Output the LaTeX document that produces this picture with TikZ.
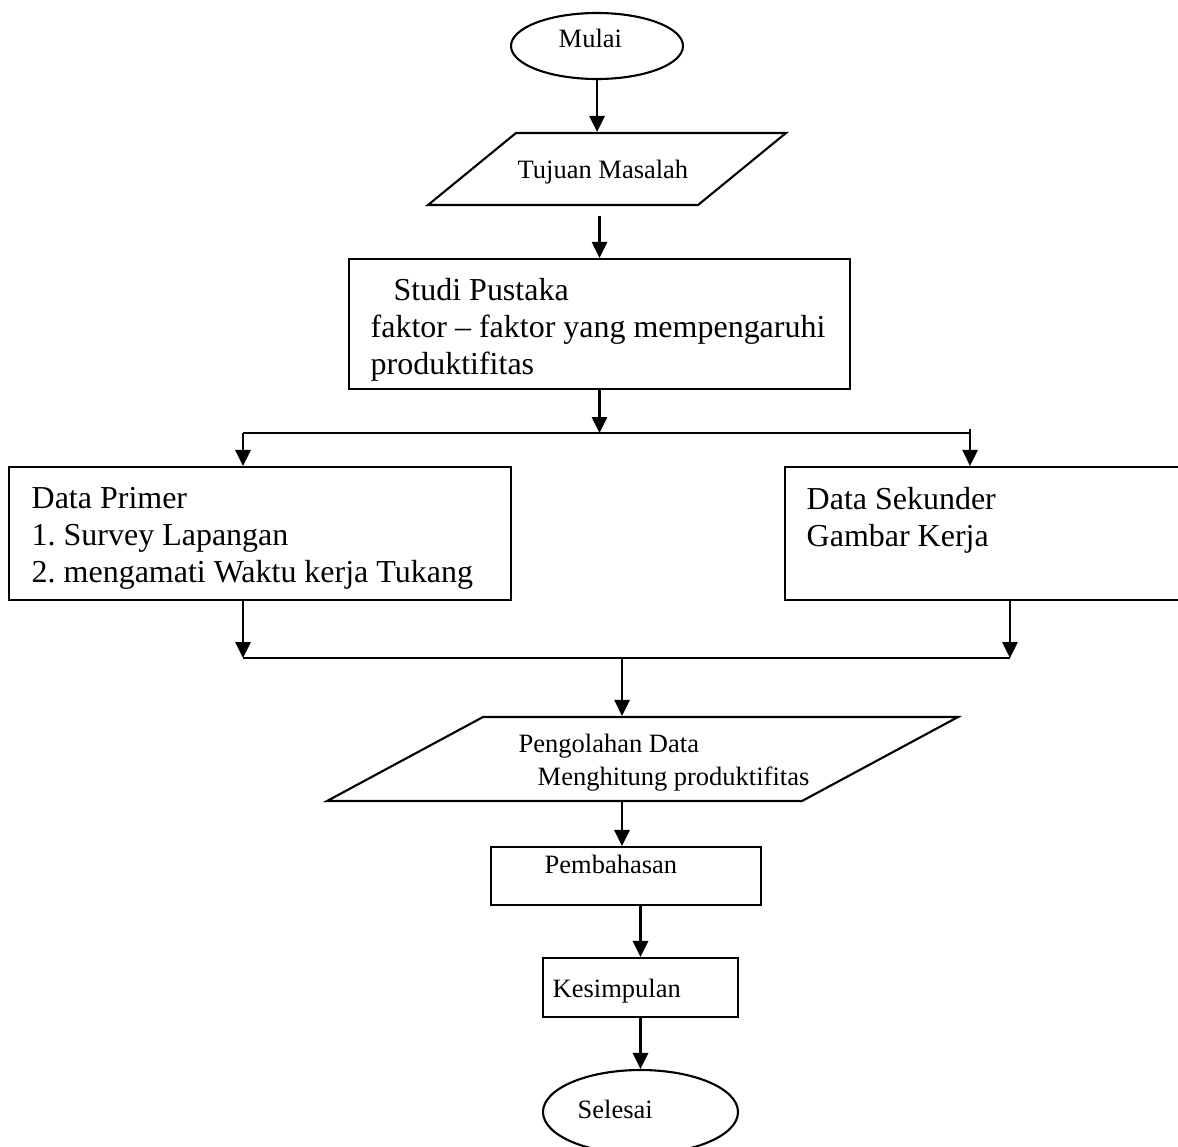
\documentclass[tikz,border=0pt]{standalone}
\usepackage{fontspec}
\setmainfont{Liberation Serif}
\usetikzlibrary{shapes.geometric,arrows.meta}

\begin{document}
\frenchspacing
\begin{tikzpicture}[
  box/.style={draw,line width=0.6pt,inner sep=0pt},
  term/.style={box,ellipse},
  io/.style={draw,line width=0.6pt,inner xsep=0.5pt,inner ysep=0pt,text depth=0pt,trapezium,trapezium stretches body=true},
  big/.style={inner sep=0pt,align=left,font=\fontsize{9.1}{10.45}\selectfont},
  small/.style={inner sep=0pt,align=left,font=\fontsize{7.54}{9.4}\selectfont},
  arrow/.style={line width=0.8pt,-{Triangle[length=0.16cm,width=0.15cm]}},
  link/.style={line width=0.6pt}]
		\clip (0,0) rectangle (11.78,-11.46);
		\node[term,minimum width=1.72cm,minimum height=0.66cm] (mulai) at (5.97,-0.46) {};
		\node[small,anchor=base west] (mulai-txt) at (5.58,-0.47) {Mulai};
		\node[io,trapezium left angle=39.3,trapezium right angle=140.7,minimum width=3.58cm,text height=0.72cm] (tujuan) at (6.07,-1.69) {};
		\node[small,anchor=base west] (tujuan-txt) at (5.17,-1.78) {Tujuan Masalah};
		\node[box,minimum width=5.01cm,minimum height=1.30cm] (studi) at (5.995,-3.24) {};
		\node[big,anchor=north west] (studi-txt) at (3.70,-2.78) {\hspace*{0.23cm}Studi Pustaka\\faktor – faktor yang mempengaruhi\\produktifitas};
		\node[box,minimum width=5.02cm,minimum height=1.33cm] (primer) at (2.60,-5.335) {};
		\node[big,anchor=north west] (primer-txt) at (0.31,-4.87) {Data Primer\\1. Survey Lapangan\\2. mengamati Waktu kerja Tukang};
		\node[box,minimum width=3.97cm,minimum height=1.33cm] (sekunder) at (9.835,-5.335) {};
		\node[big,anchor=north west] (sekunder-txt) at (8.06,-4.87) {Data Sekunder\\Gambar Kerja};
		\node[io,trapezium left angle=28.3,trapezium right angle=151.7,minimum width=6.31cm,text height=0.84cm] (olah) at (6.425,-7.59) {};
		\node[small,anchor=north west] (olah-txt) at (5.18,-7.33) {Pengolahan Data\\\hspace*{0.19cm}Menghitung produktifitas};
		\node[box,minimum width=2.70cm,minimum height=0.58cm] (bahas) at (6.26,-8.76) {};
		\node[small,anchor=base west] (bahas-txt) at (5.44,-8.73) {Pembahasan};
		\node[box,minimum width=1.95cm,minimum height=0.59cm] (simpul) at (6.405,-9.875) {};
		\node[small,anchor=base west] (simpul-txt) at (5.52,-9.97) {Kesimpulan};
		\node[term,minimum width=1.95cm,minimum height=0.84cm] (selesai) at (6.405,-11.12) {};
		\node[small,anchor=base west] (selesai-txt) at (5.77,-11.18) {Selesai};
		\coordinate (fork-l) at (2.43,-4.33);
		\coordinate (fork-r) at (9.70,-4.33);
		\coordinate (join-l) at (2.43,-6.58);
		\coordinate (join-m) at (6.22,-6.58);
		\coordinate (join-r) at (10.10,-6.58);
		\draw[arrow] (mulai.south) -- (mulai.south |- tujuan.north);
		\draw[arrow,shorten <=0.1cm] (tujuan.south -| studi.north) -- (studi.north);
		\draw[arrow] (studi.south) -- (studi.south |- fork-l);
		\draw[link] (fork-l) -- (fork-r);
		\draw[arrow] (fork-l) -- (fork-l |- primer.north);
		\draw[arrow] ([yshift=0.04cm]fork-r) -- (fork-r |- sekunder.north);
		\draw[arrow] (join-l |- primer.south) -- (join-l);
		\draw[arrow] (join-r |- sekunder.south) -- (join-r);
		\draw[link] (join-l) -- (join-r);
		\draw[arrow] (join-m) -- (join-m |- olah.north);
		\draw[arrow] (join-m |- olah.south) -- (join-m |- bahas.north);
		\draw[arrow] (simpul.north |- bahas.south) -- (simpul.north);
		\draw[arrow] (simpul.south) -- (selesai.north);
\end{tikzpicture}
\end{document}
